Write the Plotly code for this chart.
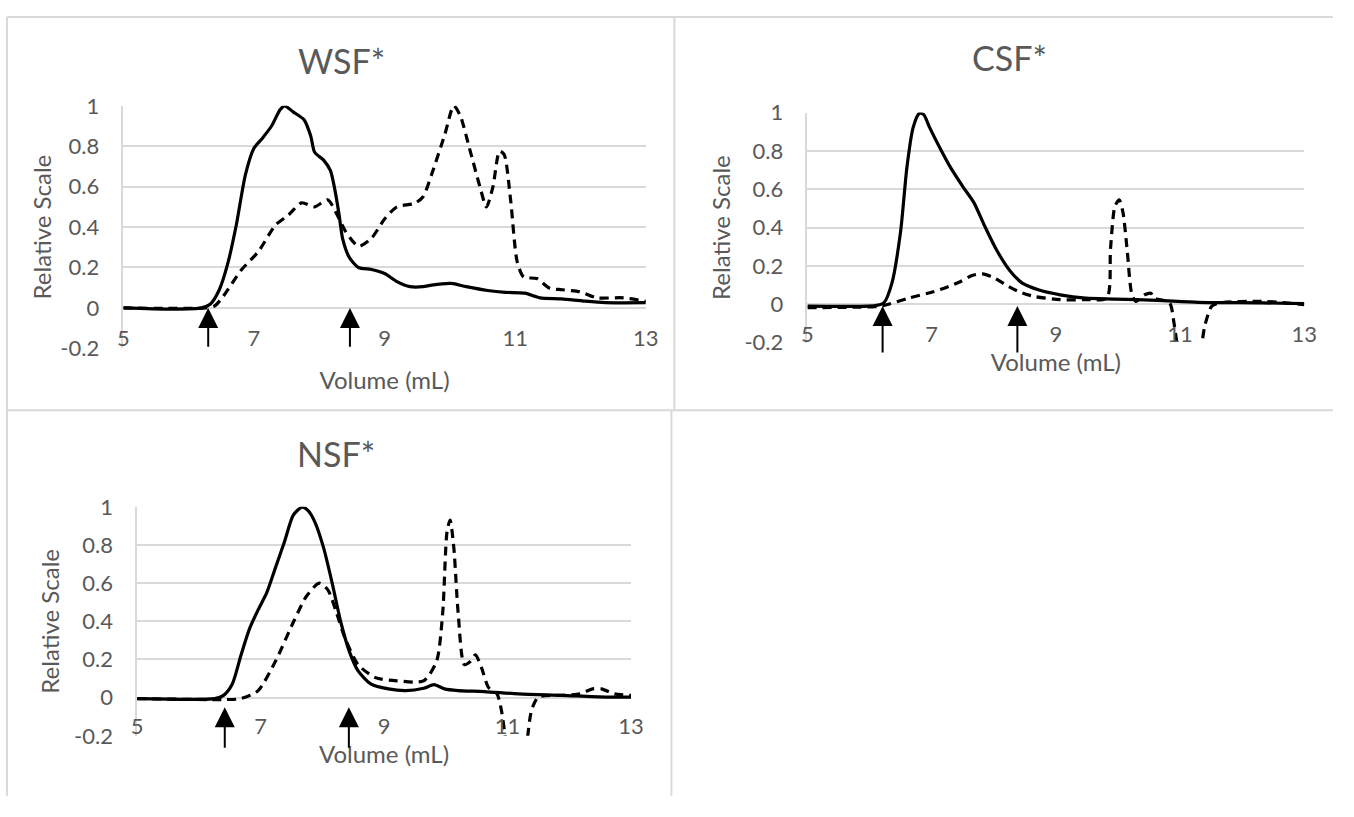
import plotly.graph_objects as go

# ---------------- data ----------------
wsf_solid_x = [5.0, 5.74, 6.2, 6.33, 6.47, 6.6, 6.73, 6.87, 7.0, 7.13, 7.27, 7.4, 7.47, 7.6, 7.77, 7.87, 7.93,
               8.07, 8.17, 8.23, 8.3, 8.36, 8.46, 8.6, 8.8, 9.0, 9.19, 9.39, 9.59, 9.72, 10.02, 10.25, 10.58,
               10.85, 11.15, 11.38, 11.71, 12.05, 12.38, 13.0]
wsf_solid_y = [0.0, -0.006, 0.0, 0.018, 0.09, 0.22, 0.41, 0.66, 0.79, 0.84, 0.9, 0.98, 1.0, 0.97, 0.93, 0.85, 0.77,
               0.73, 0.68, 0.6, 0.47, 0.34, 0.25, 0.2, 0.19, 0.17, 0.13, 0.105, 0.105, 0.113, 0.121, 0.105, 0.086,
               0.077, 0.073, 0.05, 0.045, 0.034, 0.026, 0.026]
wsf_dash_x = [5.0, 6.27, 6.4, 6.53, 6.8, 7.07, 7.33, 7.53, 7.73, 7.93, 8.13, 8.26, 8.4, 8.6, 8.8, 9.0, 9.19, 9.46,
              9.59, 9.72, 9.92, 10.06, 10.16, 10.3, 10.46, 10.56, 10.66, 10.76, 10.83, 10.93, 11.03, 11.13, 11.33,
              11.53, 11.72, 11.99, 12.25, 12.65, 13.0]
wsf_dash_y = [0.0, 0.0, 0.01, 0.057, 0.185, 0.28, 0.41, 0.46, 0.52, 0.5, 0.535, 0.47, 0.38, 0.305, 0.345, 0.44,
              0.5, 0.517, 0.55, 0.66, 0.855, 1.0, 0.95, 0.79, 0.6, 0.5, 0.6, 0.775, 0.76, 0.535, 0.23, 0.153, 0.145,
              0.097, 0.09, 0.08, 0.05, 0.05, 0.033]

csf_solid_x = [5.0, 6.09, 6.23, 6.36, 6.5, 6.6, 6.7, 6.8, 6.87, 6.97, 7.11, 7.31, 7.51, 7.68, 7.85, 8.05, 8.26,
               8.46, 8.73, 9.07, 9.48, 9.95, 10.63, 11.3, 12.32, 13.0]
csf_solid_y = [-0.01, -0.007, 0.007, 0.11, 0.38, 0.71, 0.92, 0.995, 0.99, 0.92, 0.83, 0.71, 0.61, 0.53, 0.41,
               0.28, 0.175, 0.11, 0.074, 0.049, 0.032, 0.027, 0.02, 0.01, 0.007, 0.003]
csf_dash_x = [5.0, 6.09, 6.23, 6.63, 7.04, 7.45, 7.65, 7.82, 7.99, 8.2, 8.4, 8.66, 9.07, 9.48, 9.82, 9.88, 9.95,
              10.02, 10.08, 10.15, 10.22, 10.29, 10.43, 10.53, 10.59, 10.83, 10.9, 10.96, 11.05, 11.25, 11.34,
              11.4, 11.51, 11.64, 12.32, 12.59, 13.0]
csf_dash_y = [-0.018, -0.013, -0.007, 0.032, 0.066, 0.116, 0.15, 0.158, 0.14, 0.1, 0.066, 0.04, 0.024, 0.024,
              0.032, 0.29, 0.51, 0.545, 0.48, 0.276, 0.057, 0.015, 0.049, 0.057, 0.032, 0.007, -0.094, -0.23,
              -0.4, -0.4, -0.23, -0.11, -0.01, 0.007, 0.015, 0.01, -0.002]

nsf_solid_x = [5.0, 6.26, 6.4, 6.54, 6.68, 6.82, 6.96, 7.1, 7.24, 7.39, 7.53, 7.67, 7.77, 7.88, 8.02, 8.16, 8.3,
               8.44, 8.58, 8.79, 9.07, 9.35, 9.64, 9.81, 9.98, 10.2, 10.62, 11.18, 11.88, 12.59, 13.0]
nsf_solid_y = [-0.005, -0.005, 0.012, 0.07, 0.22, 0.36, 0.46, 0.55, 0.68, 0.82, 0.956, 0.998, 0.98, 0.92, 0.786,
               0.6, 0.395, 0.24, 0.14, 0.071, 0.046, 0.037, 0.049, 0.068, 0.046, 0.037, 0.032, 0.02, 0.012, 0.003,
               0.003]
nsf_dash_x = [5.0, 6.4, 6.68, 6.96, 7.24, 7.53, 7.74, 7.95, 8.09, 8.23, 8.37, 8.58, 8.86, 9.21, 9.64, 9.85, 9.95,
              10.02, 10.07, 10.13, 10.2, 10.3, 10.4, 10.48, 10.58, 10.69, 10.83, 10.9, 10.97, 11.05, 11.25, 11.32,
              11.39, 11.5, 11.88, 12.17, 12.38, 12.52, 12.73, 13.0]
nsf_dash_y = [-0.005, -0.01, -0.005, 0.037, 0.19, 0.395, 0.53, 0.6, 0.565, 0.445, 0.31, 0.173, 0.105, 0.088, 0.088,
              0.19, 0.445, 0.87, 0.93, 0.786, 0.445, 0.173, 0.19, 0.224, 0.156, 0.054, 0.02, -0.065, -0.22, -0.4,
              -0.4, -0.22, -0.065, 0.003, 0.012, 0.02, 0.046, 0.046, 0.02, 0.012]

panel_titles = ["WSF*", "CSF*", "NSF*"]
x_ticks = [5, 7, 9, 11, 13]
y_ticks = [-0.2, 0, 0.2, 0.4, 0.6, 0.8, 1]
y_tick_text = ["-0.2", "0", "0.2", "0.4", "0.6", "0.8", "1"]
# arrow markers (volume, tip level, tail level)
wsf_arrows = [(6.3, 0.0, -0.2), (8.47, 0.0, -0.2)]
csf_arrows = [(6.21, -0.01, -0.26), (8.38, -0.01, -0.26)]
nsf_arrows = [(6.42, -0.05, -0.27), (8.43, -0.05, -0.27)]

# ---------------- layout helpers ----------------
PAGE_W, PAGE_H = 1354, 817
BODY = 8                       # default page margin around the figure
W, H = PAGE_W - 2 * BODY, PAGE_H - 2 * BODY
FONT = "Lato, 'Open Sans', sans-serif"
TXT = "#595959"
GRID = "#d9d9d9"


def fx(px):
    return (px - BODY) / W


def fy(py):
    return 1 - (py - BODY) / H


fig = go.Figure()

panels = [
    dict(x="x", y="y", xd=(127, 657), yd=(103, 354), zero=312, title=(348, 56),
         solid=(wsf_solid_x, wsf_solid_y), dash=(wsf_dash_x, wsf_dash_y), arrows=wsf_arrows, xst=22, yst=2),
    dict(x="x2", y="y2", xd=(821, 1325), yd=(110, 348), zero=308, title=(1026, 53),
         solid=(csf_solid_x, csf_solid_y), dash=(csf_dash_x, csf_dash_y), arrows=csf_arrows, xst=0, yst=7),
    dict(x="x3", y="y3", xd=(141, 642), yd=(518, 755), zero=714, title=(343, 463),
         solid=(nsf_solid_x, nsf_solid_y), dash=(nsf_dash_x, nsf_dash_y), arrows=nsf_arrows, xst=3, yst=8),
]

annotations = []
for i, p in enumerate(panels):
    fig.add_trace(go.Scatter(x=p["dash"][0], y=p["dash"][1], mode="lines", xaxis=p["x"], yaxis=p["y"],
                             line=dict(color="black", width=3.2, dash="9px,6px", shape="spline", smoothing=0.7),
                             showlegend=False, hoverinfo="skip"))
    fig.add_trace(go.Scatter(x=p["solid"][0], y=p["solid"][1], mode="lines", xaxis=p["x"], yaxis=p["y"],
                             line=dict(color="black", width=3.2, shape="spline", smoothing=0.7),
                             showlegend=False, hoverinfo="skip"))
    suffix = "" if i == 0 else str(i + 1)
    fig.update_layout(**{
        "xaxis" + suffix: dict(domain=[fx(p["xd"][0]), fx(p["xd"][1])], range=[5, 13], anchor="free",
                               position=fy(p["zero"]), showgrid=False, zeroline=False, showline=False,
                               tickvals=x_ticks, ticks="", ticklabelstandoff=15,
                               tickfont=dict(family=FONT, size=22, color=TXT),
                               title=dict(text="Volume (mL)", font=dict(family=FONT, size=24, color=TXT),
                                          standoff=p["xst"])),
        "yaxis" + suffix: dict(domain=[fy(p["yd"][1]), fy(p["yd"][0])], range=[-0.2, 1], anchor=p["x"],
                               showgrid=True, gridcolor=GRID, gridwidth=1.5, zeroline=False,
                               showline=True, linecolor=GRID, linewidth=1.5,
                               tickvals=y_ticks, ticktext=y_tick_text, ticks="", ticklabelstandoff=18,
                               tickfont=dict(family=FONT, size=22, color=TXT),
                               title=dict(text="Relative Scale", font=dict(family=FONT, size=24, color=TXT),
                                          standoff=p["yst"])),
    })
    annotations.append(dict(text=panel_titles[i], x=fx(p["title"][0]), y=fy(p["title"][1]), xref="paper",
                            yref="paper", showarrow=False, xanchor="center", yanchor="middle",
                            font=dict(family=FONT, size=34, color=TXT)))
    for (vx, tip, tail) in p["arrows"]:
        annotations.append(dict(text="", x=vx, y=tip, ax=vx, ay=tail, xref=p["x"], yref=p["y"],
                                axref=p["x"], ayref=p["y"], showarrow=True, arrowhead=2, arrowsize=2.0,
                                arrowwidth=2, arrowcolor="black", standoff=0))

# panel borders
border = dict(color=GRID, width=2)
shapes = [
    dict(type="line", xref="paper", yref="paper", x0=fx(9), x1=fx(PAGE_W), y0=fy(11), y1=fy(11), line=border),
    dict(type="line", xref="paper", yref="paper", x0=fx(9), x1=fx(9), y0=fy(11), y1=fy(PAGE_H), line=border),
    dict(type="line", xref="paper", yref="paper", x0=fx(686), x1=fx(686), y0=fy(11), y1=fy(418), line=border),
    dict(type="line", xref="paper", yref="paper", x0=fx(9), x1=fx(PAGE_W), y0=fy(418), y1=fy(418), line=border),
    dict(type="line", xref="paper", yref="paper", x0=fx(683), x1=fx(683), y0=fy(418), y1=fy(PAGE_H), line=border),
]

fig.update_layout(width=W, height=H, margin=dict(l=0, r=0, t=0, b=0), paper_bgcolor="white",
                  plot_bgcolor="white", annotations=annotations, shapes=shapes, showlegend=False)

fig.write_html("out.html")
